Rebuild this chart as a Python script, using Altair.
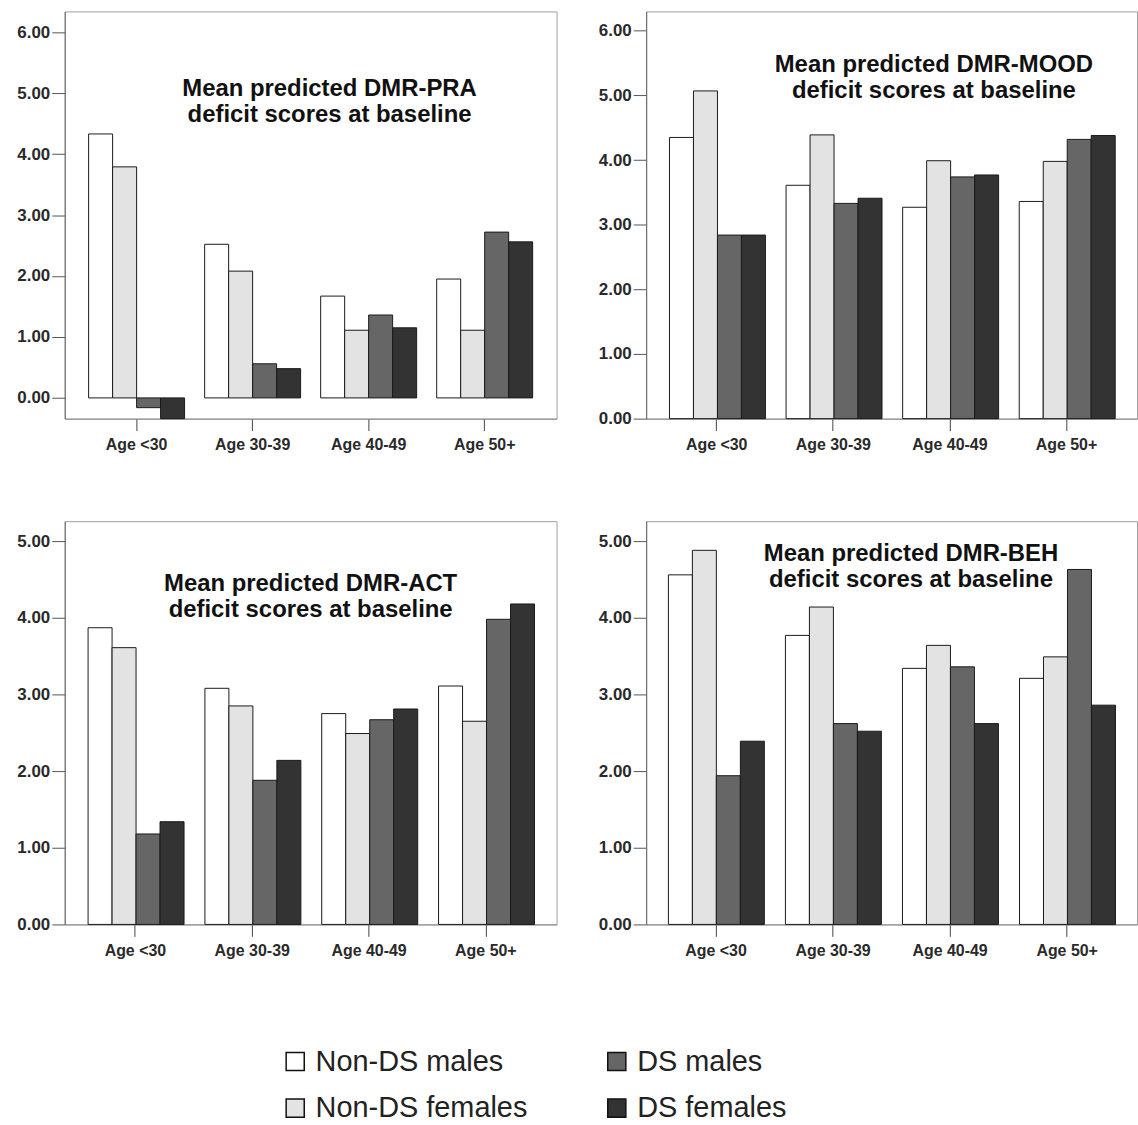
import altair as alt
import pandas as pd

ages = ["Age <30", "Age 30-39", "Age 40-49", "Age 50+"]
groups = ["Non-DS males", "Non-DS females", "DS males", "DS females"]
legend_order = ["Non-DS males", "DS males", "Non-DS females", "DS females"]
legend_colors = ["#ffffff", "#666666", "#e3e3e3", "#333333"]

# DMR-PRA
pra_nonds_m = [4.33, 2.52, 1.67, 1.95]
pra_nonds_f = [3.79, 2.08, 1.11, 1.11]
pra_ds_m = [-0.16, 0.56, 1.36, 2.72]
pra_ds_f = [-0.34, 0.48, 1.15, 2.56]

# DMR-MOOD
mood_nonds_m = [4.35, 3.61, 3.27, 3.36]
mood_nonds_f = [5.07, 4.39, 3.99, 3.98]
mood_ds_m = [2.84, 3.33, 3.74, 4.32]
mood_ds_f = [2.84, 3.41, 3.77, 4.38]

# DMR-ACT
act_nonds_m = [3.87, 3.08, 2.75, 3.11]
act_nonds_f = [3.61, 2.85, 2.49, 2.65]
act_ds_m = [1.18, 1.88, 2.67, 3.98]
act_ds_f = [1.34, 2.14, 2.81, 4.18]

# DMR-BEH
beh_nonds_m = [4.56, 3.77, 3.34, 3.21]
beh_nonds_f = [4.88, 4.14, 3.64, 3.49]
beh_ds_m = [1.94, 2.62, 3.36, 4.63]
beh_ds_f = [2.39, 2.52, 2.62, 2.86]

ticks6 = [0, 1, 2, 3, 4, 5, 6]
ticks5 = [0, 1, 2, 3, 4, 5]

FONT = "Liberation Sans"


def make_df(series):
    rows = []
    for g, vals in zip(groups, series):
        for a, v in zip(ages, vals):
            rows.append({"age": a, "group": g, "value": v})
    return pd.DataFrame(rows)


def panel(series, title_lines, ydomain, yticks, w, h, pi, po, tx, ty):
    df = make_df(series)
    bars = alt.Chart(df).mark_bar(stroke="#1a1a1a", strokeWidth=1).encode(
        x=alt.X(
            "age:N", sort=ages, title=None,
            scale=alt.Scale(paddingInner=pi, paddingOuter=po),
            axis=alt.Axis(labelAngle=0, tickSize=12, labelPadding=6,
                          domainColor="#8a8a8a", tickColor="#444"),
        ),
        xOffset=alt.XOffset("group:N", sort=groups,
                            scale=alt.Scale(paddingInner=0, paddingOuter=0)),
        y=alt.Y(
            "value:Q", stack=None, title=None,
            scale=alt.Scale(domain=ydomain, nice=False, zero=False),
            axis=alt.Axis(values=yticks, format=".2f", grid=False, tickSize=13,
                          labelPadding=2, minExtent=46, maxExtent=46,
                          labelFontSize=17,
                          domainColor="#666", tickColor="#555"),
        ),
        y2=alt.datum(0),
        color=alt.Color(
            "group:N",
            scale=alt.Scale(domain=legend_order, range=legend_colors),
            legend=alt.Legend(
                title=None, orient="none", legendX=217, legendY=1040,
                direction="horizontal", columns=2, columnPadding=75,
                rowPadding=17, symbolType="square", symbolSize=330,
                symbolStrokeColor="#111", symbolStrokeWidth=1.5,
                labelFont=FONT, labelFontSize=29, labelColor="#222",
                labelOffset=6, labelLimit=400,
            ),
        ),
    )
    title = alt.Chart(pd.DataFrame({"k": [0]})).mark_text(
        text=title_lines, font=FONT, fontSize=24, fontWeight="bold",
        color="#111", align="center", baseline="alphabetic", lineHeight=26,
    ).encode(x=alt.value(tx), y=alt.value(ty))
    return alt.layer(bars, title).properties(width=w, height=h)


p1 = panel([pra_nonds_m, pra_nonds_f, pra_ds_m, pra_ds_f],
           ["Mean predicted DMR-PRA", "deficit scores at baseline"],
           [-0.34, 6.34], ticks6, 494, 409, 0.173, 0.206, 266, 85)
p2 = panel([mood_nonds_m, mood_nonds_f, mood_ds_m, mood_ds_f],
           ["Mean predicted DMR-MOOD", "deficit scores at baseline"],
           [0, 6.30], ticks6, 493, 409, 0.19, 0.20, 289, 61)
p3 = panel([act_nonds_m, act_nonds_f, act_ds_m, act_ds_f],
           ["Mean predicted DMR-ACT", "deficit scores at baseline"],
           [0, 5.26], ticks5, 494, 405, 0.19, 0.20, 247, 70)
p4 = panel([beh_nonds_m, beh_nonds_f, beh_ds_m, beh_ds_f],
           ["Mean predicted DMR-BEH", "deficit scores at baseline"],
           [0, 5.26], ticks5, 493, 405, 0.186, 0.19, 266, 40)

row1 = alt.hconcat(p1, p2, spacing=40)
row2 = alt.hconcat(p3, p4, spacing=40)

chart = alt.vconcat(row1, row2, spacing=67).properties(
    padding={"left": 16, "top": 8, "right": 0, "bottom": 0},
    background="#ffffff",
).configure_view(
    stroke="#a0a0a0", strokeWidth=1,
).configure_axis(
    labelFont=FONT, labelFontSize=16, labelFontWeight="bold", labelColor="#2a2a2a",
)

chart.save("out.html", embed_options={"renderer": "svg", "actions": False})
